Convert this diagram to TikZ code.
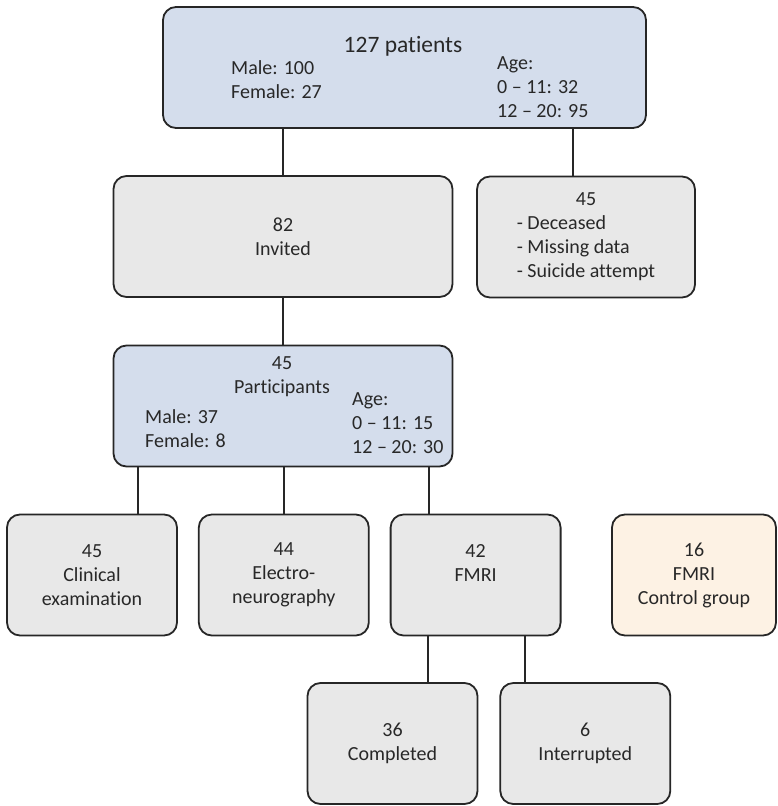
\documentclass[tikz,border=0pt]{standalone}
\usepackage{fontspec}
\setmainfont{Carlito}[Ligatures={TeX,NoCommon}]
\usepackage{tikz}
\usetikzlibrary{positioning}

\definecolor{headblue}{RGB}{212,221,236}
\definecolor{boxgrey}{RGB}{232,232,232}
\definecolor{ctrlbeige}{RGB}{253,242,228}
\definecolor{boxline}{RGB}{38,38,38}
\definecolor{textgrey}{RGB}{40,40,40}

\begin{document}
\begin{tikzpicture}[
  x=1pt, y=-1pt,
  box/.style={rectangle, draw=boxline, line width=1.8pt, fill=boxgrey, rounded corners=13pt, align=center, text=textgrey, font=\fontsize{20}{24}\selectfont, minimum width=170pt, minimum height=121pt},
  mainbox/.style={box, fill=headblue},
  ctrlbox/.style={box, fill=ctrlbeige},
  info/.style={align=left, inner sep=0pt, anchor=base west, text=textgrey, font=\fontsize{20}{24}\selectfont},
  link/.style={draw=boxline, line width=1.8pt}
]
\useasboundingbox (0,0) rectangle (778,806);

% cohort
\node[mainbox, minimum width=483pt] (patients) at (404.5,67.5) {};
\node[anchor=base, inner sep=0pt, text=textgrey, font=\fontsize{23.5}{28}\selectfont] (ptitle) at (403,52.5) {127 patients};
\node[info] (psex) at (231,98) {Male: 100\\Female: 27};
\node[info] (page) at (497,117) {Age:\\0 – 11: 32\\12 – 20: 95};

\node[box, minimum width=339pt] (invited) at (283,236.5) {82\\Invited};
\node[box, minimum width=218pt] (lost) at (586,237) {\begin{tabular}{@{}l@{}}\multicolumn{1}{@{}c@{}}{45}\\- Deceased\\- Missing data\\- Suicide attempt\end{tabular}};

% participants
\node[mainbox, minimum width=339pt] (particip) at (283,406) {};
\node[anchor=base, inner sep=0pt, align=center, text=textgrey, font=\fontsize{20}{24}\selectfont] (pnum) at (282,393) {45\\Participants};
\node[info] (sex2) at (145,447) {Male: 37\\Female: 8};
\node[info] (age2) at (352,453) {Age:\\0 – 11: 15\\12 – 20: 30};

% examinations
\node[box] (clinical) at (92,575) {45\\Clinical\\examination};
\node[box, right=20pt of clinical] (eneg) {44\\Electro-\\neurography};
\node[box, right=20pt of eneg] (fmri) {42\\FMRI\\\mbox{}};
\node[ctrlbox, minimum width=164pt] (control) at (694,575) {16\\FMRI\\Control group};

\node[box] (done) at (392.5,743.5) {36\\Completed};
\node[box, right=21pt of done] (stopped) {6\\Interrupted};

\draw[link] (invited.north) -- (invited.north |- patients.south);
\draw[link] ([xshift=-13pt]lost.north) -- ([xshift=-13pt]lost.north |- patients.south);
\draw[link] (particip.north) -- (particip.north |- invited.south);
\draw[link] ([xshift=46pt]clinical.north) -- ([xshift=46pt]clinical.north |- particip.south);
\draw[link] (eneg.north) -- (eneg.north |- particip.south);
\draw[link] ([xshift=-47pt]fmri.north) -- ([xshift=-47pt]fmri.north |- particip.south);
\draw[link] ([xshift=35.5pt]done.north) -- ([xshift=35.5pt]done.north |- fmri.south);
\draw[link] ([xshift=-60.5pt]stopped.north) -- ([xshift=-60.5pt]stopped.north |- fmri.south);

\end{tikzpicture}
\end{document}
